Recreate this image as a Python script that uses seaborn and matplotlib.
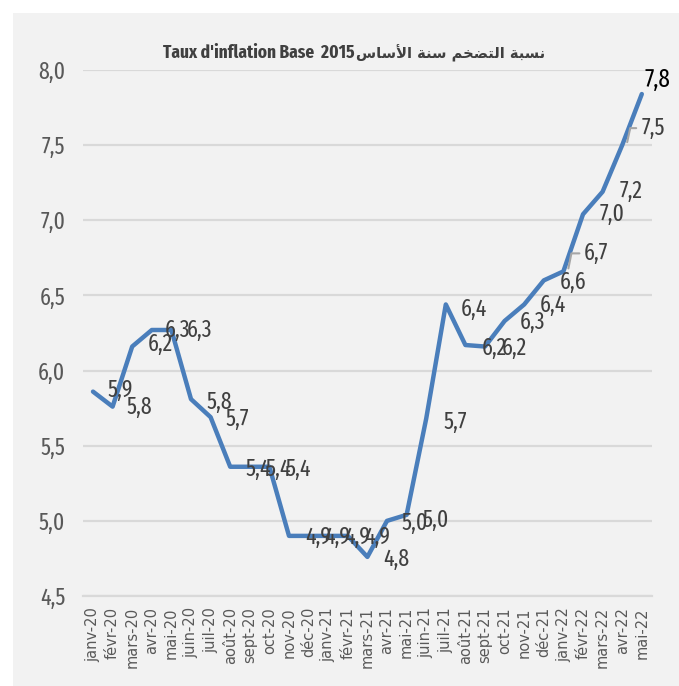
import matplotlib
matplotlib.use("Agg")
import matplotlib.pyplot as plt
from matplotlib.patches import Rectangle
import seaborn as sns
import pandas as pd
import numpy as np

months = ["janv-20", "févr-20", "mars-20", "avr-20", "mai-20", "juin-20", "juil-20",
          "août-20", "sept-20", "oct-20", "nov-20", "déc-20", "janv-21", "févr-21",
          "mars-21", "avr-21", "mai-21", "juin-21", "juil-21", "août-21", "sept-21",
          "oct-21", "nov-21", "déc-21", "janv-22", "févr-22", "mars-22", "avr-22", "mai-22"]
inflation = [5.86, 5.76, 6.16, 6.27, 6.27, 5.81, 5.69, 5.36, 5.36, 5.36, 4.90, 4.90,
             4.90, 4.90, 4.76, 5.00, 5.04, 5.68, 6.44, 6.17, 6.16, 6.33, 6.44, 6.60,
             6.66, 7.04, 7.19, 7.50, 7.84]
y_ticks = [4.5, 5.0, 5.5, 6.0, 6.5, 7.0, 7.5, 8.0]

# label placement offsets (pixels, screen: right / down)
label_dx = [27, 27, 28, 26, 28, 28, 27, 28, 28, 29, 29, 29, 29, 29, 29, 28, 29, 29,
            28, 29, 29, 28, 29, 29, 33, 29, 29, 31, 16]
label_dy = [-1, 1, -2, 0, 0, 3, 2, 2, 2, 2, 1, 1, 1, 1, 2, 2, 5, 4, 5, 3, 2, 1, 1,
            2, -18, 0, 0, -17, -14]

# Arabic title part, pre-shaped (presentation forms, visual order)
arabic_title = ("\uFEB1\uFE8E\uFEB3\uFEF7\uFE8D" + " " + "\uFE94\uFEE8\uFEB3" + " " +
                "\uFEE2\uFEA8\uFEC0\uFE98\uFEDF\uFE8D" + " " + "\uFE94\uFE92\uFEB4\uFEE7")
latin_title = "Taux d'inflation Base  2015"

df = pd.DataFrame({"idx": np.arange(len(months)), "month": months, "value": inflation})

sns.set_theme(style="white")
NARROW = ['Fira Sans Extra Condensed', 'Noto Sans Arabic', 'DejaVu Sans']
plt.rcParams['font.family'] = NARROW

BG = "#F2F2F2"
fig = plt.figure(figsize=(6.79, 6.86), dpi=100, facecolor="white")
fig.patches.append(Rectangle((13 / 679, 0), 1, 1 - 13 / 686, transform=fig.transFigure,
                             facecolor=BG, edgecolor="none", zorder=-10))
ax = fig.add_axes([83.2 / 679, 1 - 596 / 686, (651.6 - 83.2) / 679, (596 - 70) / 686])
ax.set_facecolor(BG)

sns.lineplot(data=df, x="idx", y="value", ax=ax, color="#4A7EBB", linewidth=3.2,
             sort=False, zorder=3)

ax.set_xlim(-0.5, len(months) - 0.5)
ax.set_ylim(4.5, 8.0)
ax.set_yticks(y_ticks)
ax.set_yticklabels([f"{v:.1f}".replace(".", ",") for v in y_ticks],
                   fontsize=17, color="#595959")
ax.set_xticks(np.arange(len(months)))
ax.set_xticklabels(months, rotation=90, fontsize=10.5, color="#595959",
                   family=['DejaVu Sans'])
ax.set_xticks(np.arange(len(months) + 1) - 0.5, minor=True)
ax.tick_params(axis="x", which="major", length=0, pad=8)
ax.tick_params(axis="x", which="minor", length=6, color="#D9D9D9", width=1.2)
ax.tick_params(axis="y", length=0, pad=13)
ax.grid(axis="y", color="#D9D9D9", linewidth=1.6, zorder=0)
ax.set_axisbelow(True)
for s in ["top", "right", "left"]:
    ax.spines[s].set_visible(False)
ax.spines["bottom"].set_color("#D9D9D9")
ax.spines["bottom"].set_linewidth(1.6)
ax.set_xlabel("")
ax.set_ylabel("")

px = 72 / 100.0
for i, v in enumerate(inflation):
    last = i == len(inflation) - 1
    ax.annotate(f"{v:.1f}".replace(".", ","), xy=(i, v),
                xytext=(label_dx[i] * px, -label_dy[i] * px), textcoords="offset points",
                ha="center", va="center", fontsize=18 if last else 17,
                color="#000000" if last else "#404040", zorder=5)

# leader lines for displaced labels
for i in (24, 27):
    base = ax.transData.transform((i, inflation[i]))
    xs = [base[0] + 5, base[0] + 8, base[0] + label_dx[i] - 17]
    ys = [base[1] + 3, base[1] - label_dy[i], base[1] - label_dy[i]]
    ax.plot(xs, ys, transform=None, color="#A6A6A6", linewidth=1.5, zorder=4)

fig.text(355 / 679, 1 - 53 / 686, latin_title, ha="right", va="center",
         fontsize=13.5, fontweight="bold", color="#404040", family=NARROW)
fig.text(356 / 679, 1 - 53 / 686, arabic_title, ha="left", va="center",
         fontsize=10.5, fontweight="bold", color="#404040",
         family=['DejaVu Sans'])

fig.savefig("out.png", dpi=100, facecolor="white")
